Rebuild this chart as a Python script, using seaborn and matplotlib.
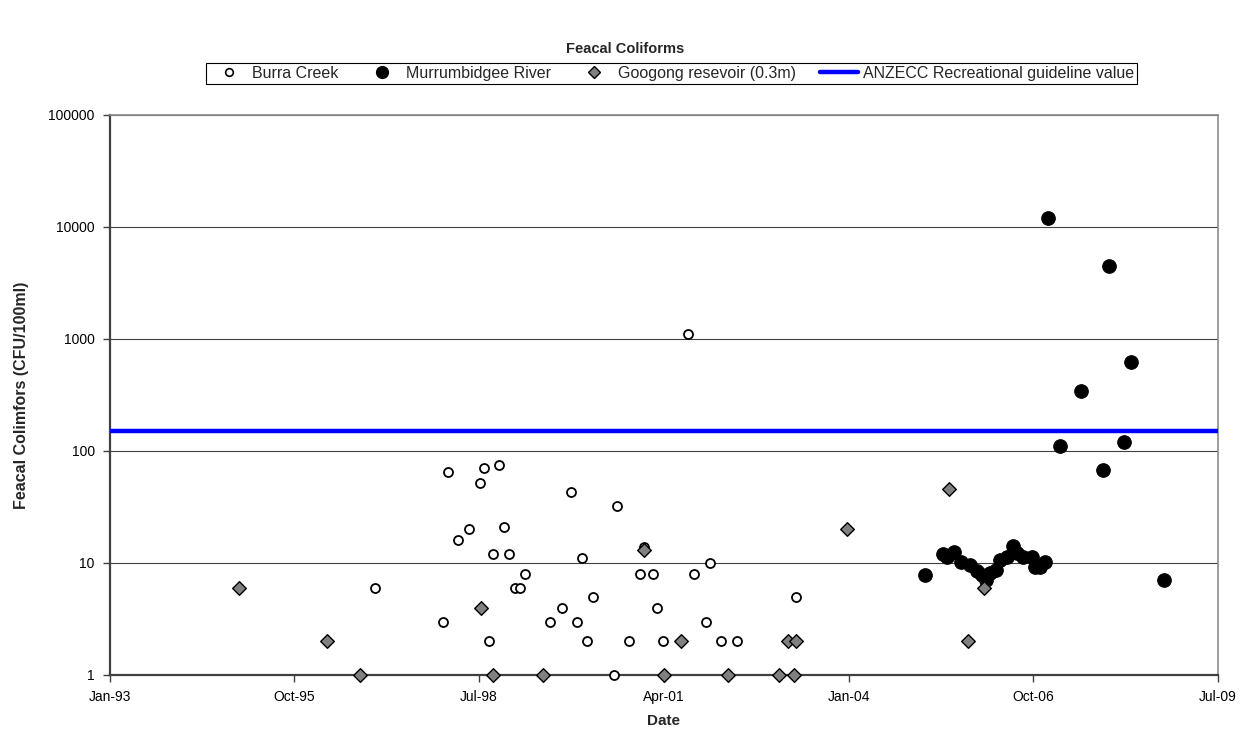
import matplotlib
matplotlib.use("Agg")
import matplotlib.pyplot as plt
import matplotlib.dates as mdates
from matplotlib.ticker import FixedLocator, FuncFormatter, NullLocator
from matplotlib.lines import Line2D
import numpy as np
import pandas as pd
import seaborn as sns

# --- data -------------------------------------------------------------
burra_dates = [
    "1996-12-10", "1997-12-17", "1998-01-15", "1998-03-10", "1998-05-05",
    "1998-07-08", "1998-07-27", "1998-08-22", "1998-09-16", "1998-10-19",
    "1998-11-14", "1998-12-13", "1999-01-11", "1999-02-09", "1999-03-07",
    "1999-07-24", "1999-09-24", "1999-11-14", "1999-12-17", "2000-01-12",
    "2000-02-06", "2000-03-10", "2000-07-01", "2000-07-19", "2000-09-23",
    "2000-11-20", "2000-12-16", "2001-01-30", "2001-02-24", "2001-03-29",
    "2001-08-08", "2001-09-13", "2001-11-14", "2001-12-09", "2002-02-06",
    "2002-05-01", "2003-03-18",
]
burra_values = [
    6, 3, 65, 16, 20,
    52, 70, 2, 12, 75,
    21, 12, 6, 6, 8,
    3, 4, 43, 3, 11,
    2, 5, 1, 32, 2,
    8, 14, 8, 4, 2,
    1100, 8, 3, 10, 2,
    2, 5,
]

murrum_dates = [
    "2005-02-17", "2005-05-30", "2005-06-21", "2005-07-27", "2005-09-02",
    "2005-10-19", "2005-11-28", "2005-12-24", "2006-01-19", "2006-02-06",
    "2006-03-14", "2006-04-01", "2006-05-08", "2006-06-10", "2006-07-02",
    "2006-08-08", "2006-09-24", "2006-10-12", "2006-11-07", "2006-12-03",
    "2006-12-20", "2007-02-24", "2007-06-17", "2007-10-16", "2007-11-18",
    "2008-02-06", "2008-03-14", "2008-09-13",
]
murrum_values = [
    7.8, 12, 11.2, 12.6, 10.3,
    9.5, 8.4, 7.8, 7.0, 8.1,
    8.7, 10.6, 11.4, 14.2, 12.2,
    11.4, 11.2, 9.3, 9.3, 10.3,
    12000, 110, 340, 68, 4500,
    120, 620, 7,
]

googong_dates = [
    "1994-12-01", "1996-03-25", "1996-09-24", "1998-07-12", "1998-09-16",
    "1999-06-13", "2000-12-16", "2001-04-02", "2001-07-05", "2002-03-18",
    "2002-12-20", "2003-02-06", "2003-03-10", "2003-03-21", "2003-12-24",
    "2005-06-28", "2005-10-08", "2006-01-08",
]
googong_values = [
    6, 2, 1, 4, 1,
    1, 13, 1, 2, 1,
    1, 2, 1, 2, 20,
    46, 2, 6,
]

guideline_value = 150
x_range = ["1993-01-01", "2009-07-01"]
x_tick_dates = ["1993-01-01", "1995-10-01", "1998-07-01", "2001-04-01",
                "2004-01-01", "2006-10-01", "2009-07-01"]
y_ticks = [1, 10, 100, 1000, 10000, 100000]

# --- frames -----------------------------------------------------------
burra = pd.DataFrame({"date": pd.to_datetime(burra_dates), "cfu": burra_values})
murrum = pd.DataFrame({"date": pd.to_datetime(murrum_dates), "cfu": murrum_values})
googong = pd.DataFrame({"date": pd.to_datetime(googong_dates), "cfu": googong_values})
guide = pd.DataFrame({"date": pd.to_datetime(x_range),
                      "cfu": [guideline_value] * len(x_range)})

# --- style ------------------------------------------------------------
sns.set_style("white")
plt.rcParams["font.family"] = ["Liberation Sans", "DejaVu Sans"]
plt.rcParams["font.size"] = 10

fig = plt.figure(figsize=(12.51, 7.40), dpi=100)
ax = fig.add_axes([110 / 1251, 1 - 675 / 740, 1108 / 1251, 560 / 740])

ax.set_yscale("log")

sns.scatterplot(data=burra, x="date", y="cfu", ax=ax, marker="o", s=42,
                facecolor="white", edgecolor="black", linewidth=1.3,
                clip_on=False, zorder=3, label="Burra Creek")
sns.scatterplot(data=murrum, x="date", y="cfu", ax=ax, marker="o", s=95,
                color="black", edgecolor="black", linewidth=0.8,
                clip_on=False, zorder=4, label="Murrumbidgee River")
sns.scatterplot(data=googong, x="date", y="cfu", ax=ax, marker="D", s=48,
                color="#808080", edgecolor="black", linewidth=1.0,
                clip_on=False, zorder=5, label="Googong resevoir (0.3m)")
sns.lineplot(data=guide, x="date", y="cfu", ax=ax, color="#0000FF",
             linewidth=3.2, zorder=6, label="ANZECC Recreational guideline value")

# axes limits and ticks
ax.set_xlim(pd.to_datetime(x_range[0]), pd.to_datetime(x_range[1]))
ax.set_ylim(y_ticks[0], y_ticks[-1])
ax.xaxis.set_major_locator(FixedLocator(mdates.date2num(pd.to_datetime(x_tick_dates))))
ax.xaxis.set_major_formatter(mdates.DateFormatter("%b-%y"))
ax.yaxis.set_major_locator(FixedLocator(y_ticks))
ax.yaxis.set_major_formatter(FuncFormatter(lambda v, p: f"{int(round(v))}"))
ax.yaxis.set_minor_locator(NullLocator())

ax.tick_params(axis="both", which="major", direction="out", length=5,
               width=1, color="#404040", labelsize=10, labelcolor="black",
               bottom=True, left=True)
ax.tick_params(axis="x", pad=6)
ax.tick_params(axis="y", pad=6)

ax.grid(axis="y", which="major", color="#404040", linewidth=0.8)
ax.grid(axis="x", visible=False)
ax.set_axisbelow(True)

for side in ("left", "bottom"):
    ax.spines[side].set_color("#404040")
    ax.spines[side].set_linewidth(1.6)
for side in ("top", "right"):
    ax.spines[side].set_color("#8c8c8c")
    ax.spines[side].set_linewidth(1.2)
ax.spines["bottom"].set_zorder(2.5)

ax.set_xlabel("Date", fontweight="bold", fontsize=11, labelpad=7)
ax.set_ylabel("Feacal Colimfors (CFU/100ml)", fontweight="bold", fontsize=11.5,
              labelpad=14)

fig.suptitle("Feacal Coliforms", fontweight="bold", fontsize=10.5, y=0.943)

# legend across the top, in a plain box
handles = [
    Line2D([], [], linestyle="none", marker="o", markersize=5.5,
           markerfacecolor="white", markeredgecolor="black", markeredgewidth=1.2),
    Line2D([], [], linestyle="none", marker="o", markersize=8.5,
           markerfacecolor="black", markeredgecolor="black"),
    Line2D([], [], linestyle="none", marker="D", markersize=6,
           markerfacecolor="#808080", markeredgecolor="black"),
    Line2D([], [], color="#0000FF", linewidth=3.2),
]
labels = ["Burra Creek", "Murrumbidgee River", "Googong resevoir (0.3m)",
          "ANZECC Recreational guideline value"]
ax.get_legend().remove()
leg = fig.legend(handles, labels, loc="center", bbox_to_anchor=(0.537, 0.901),
                 ncol=4, frameon=True, fancybox=False, framealpha=1,
                 edgecolor="black", fontsize=11.5, handlelength=2.4,
                 handletextpad=0.3, columnspacing=1.5, borderpad=0.2)
leg.get_frame().set_linewidth(0.8)

fig.savefig("out.png", dpi=100, facecolor="white")
